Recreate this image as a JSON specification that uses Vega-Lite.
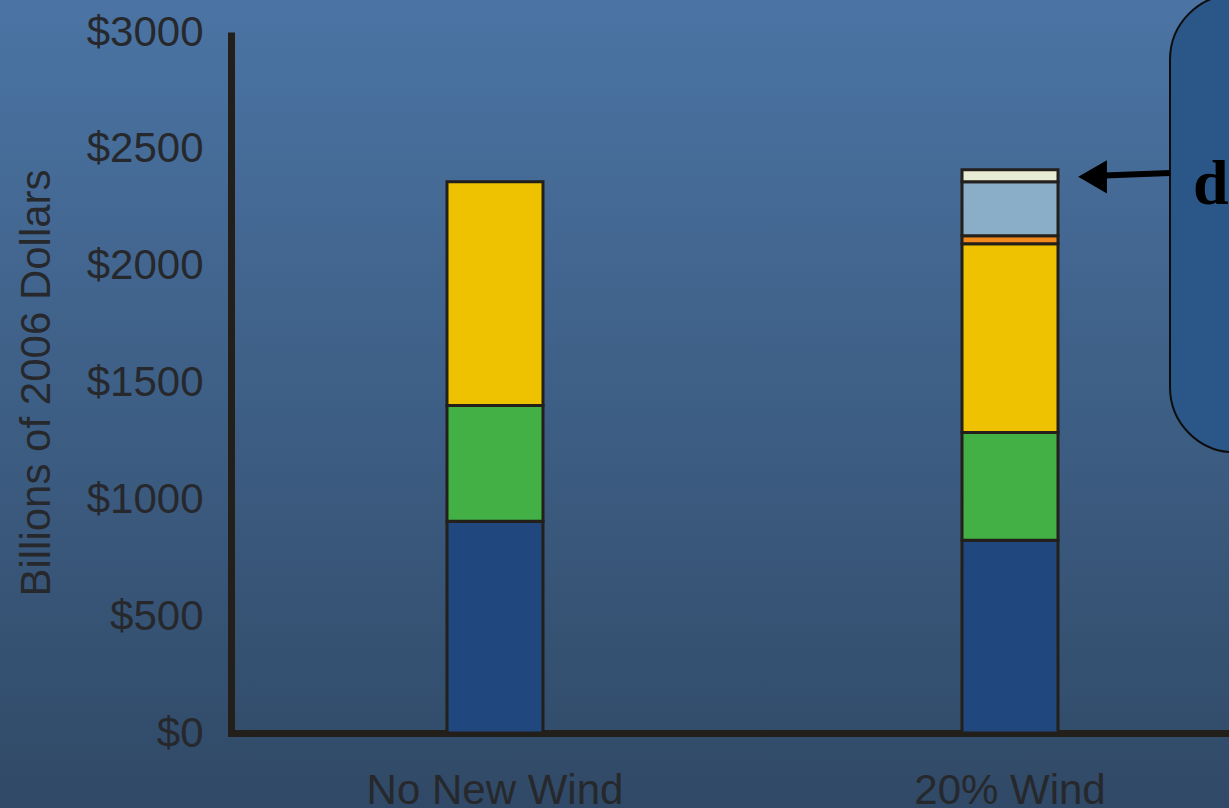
{
  "$schema": "https://vega.github.io/schema/vega-lite/v6.json",
  "width": 1229,
  "height": 808,
  "autosize": "none",
  "padding": 0,
  "background": "#3e5d85",
  "config": {
    "view": {
      "stroke": null,
      "fill": {
        "gradient": "linear",
        "x1": 0, "y1": 0, "x2": 0, "y2": 1,
        "stops": [
          {"offset": 0, "color": "#4b74a4"},
          {"offset": 1, "color": "#304966"}
        ]
      }
    },
    "axis": {
      "grid": false,
      "ticks": false,
      "tickSize": 0,
      "domainColor": "#231f1a",
      "domainWidth": 7,
      "labelFont": "Liberation Sans",
      "labelFontSize": 42,
      "labelColor": "#26282c",
      "labelLimit": 0,
      "titleFont": "Liberation Sans",
      "titleFontSize": 42,
      "titleFontWeight": "normal",
      "titleColor": "#26282c"
    }
  },
  "resolve": {"scale": {"x": "independent", "y": "independent"}},
  "layer": [
    {
      "data": {
        "values": [
          {"scenario": "No New Wind", "component": "Capital", "k": 1, "value": 906},
          {"scenario": "No New Wind", "component": "O&M", "k": 2, "value": 496},
          {"scenario": "No New Wind", "component": "Fuel", "k": 3, "value": 957},
          {"scenario": "20% Wind", "component": "Capital", "k": 1, "value": 825},
          {"scenario": "20% Wind", "component": "O&M", "k": 2, "value": 461},
          {"scenario": "20% Wind", "component": "Fuel", "k": 3, "value": 808},
          {"scenario": "20% Wind", "component": "Transmission", "k": 4, "value": 34},
          {"scenario": "20% Wind", "component": "Wind capital", "k": 5, "value": 231},
          {"scenario": "20% Wind", "component": "Wind O&M", "k": 6, "value": 51}
        ]
      },
      "mark": {"type": "bar", "width": 96, "stroke": "#231f1a", "strokeWidth": 3},
      "encoding": {
        "x": {
          "field": "scenario",
          "type": "nominal",
          "sort": ["No New Wind", "20% Wind"],
          "scale": {"range": [231, 1274], "paddingInner": 0, "paddingOuter": 0.0126},
          "axis": {
            "title": null,
            "labelAngle": 0,
            "labelPadding": 37,
            "labelBaseline": "top",
            "offset": -75,
            "domainCap": "square"
          }
        },
        "y": {
          "field": "value",
          "type": "quantitative",
          "stack": "zero",
          "scale": {"domain": [0, 3000], "range": [733, 32], "nice": false},
          "axis": {
            "title": "Billions of 2006 Dollars",
            "values": [0, 500, 1000, 1500, 2000, 2500, 3000],
            "labelExpr": "'$' + datum.value",
            "labelPadding": 28,
            "titlePadding": 28,
            "offset": -231,
            "domainCap": "butt"
          }
        },
        "color": {
          "field": "component",
          "type": "nominal",
          "scale": {
            "domain": ["Capital", "O&M", "Fuel", "Transmission", "Wind capital", "Wind O&M"],
            "range": ["#21477f", "#43b045", "#eec200", "#f08a1d", "#8aaec8", "#e8ecd5"]
          },
          "legend": null
        },
        "order": {"field": "k", "type": "quantitative"}
      }
    },
    {
      "data": {"values": [{"x1": 0.952, "x2": 1.08, "y1": 3160, "y2": 1201}]},
      "mark": {"type": "rect", "cornerRadius": 65, "fill": "#2a5788", "stroke": "#0d0d0d", "strokeWidth": 2},
      "encoding": {
        "x": {"field": "x1", "type": "quantitative", "scale": {"domain": [0, 1], "nice": false, "zero": false}, "axis": null},
        "x2": {"field": "x2"},
        "y": {"field": "y1", "type": "quantitative", "scale": {"domain": [0, 3000], "range": [733, 32], "nice": false}, "axis": null},
        "y2": {"field": "y2"}
      }
    },
    {
      "data": {"values": [{"xa": 0.952, "xb": 0.893, "ya": 2397, "yb": 2385}]},
      "mark": {"type": "rule", "stroke": "#000000", "strokeWidth": 6},
      "encoding": {
        "x": {"field": "xa", "type": "quantitative", "scale": {"domain": [0, 1], "nice": false, "zero": false}, "axis": null},
        "x2": {"field": "xb"},
        "y": {"field": "ya", "type": "quantitative", "scale": {"domain": [0, 3000], "range": [733, 32], "nice": false}, "axis": null},
        "y2": {"field": "yb"}
      }
    },
    {
      "data": {"values": [{"x": 0.889, "y": 2380}]},
      "mark": {"type": "point", "shape": "triangle-left", "filled": true, "size": 1100, "color": "#000000", "opacity": 1},
      "encoding": {
        "x": {"field": "x", "type": "quantitative", "scale": {"domain": [0, 1], "nice": false, "zero": false}, "axis": null},
        "y": {"field": "y", "type": "quantitative", "scale": {"domain": [0, 3000], "range": [733, 32], "nice": false}, "axis": null}
      }
    },
    {
      "data": {"values": [{"x": 0.9707, "y": 2266, "label": "difference"}]},
      "mark": {"type": "text", "align": "left", "baseline": "alphabetic", "font": "Liberation Serif", "fontWeight": "bold", "fontSize": 64, "color": "#000000"},
      "encoding": {
        "x": {"field": "x", "type": "quantitative", "scale": {"domain": [0, 1], "nice": false, "zero": false}, "axis": null},
        "y": {"field": "y", "type": "quantitative", "scale": {"domain": [0, 3000], "range": [733, 32], "nice": false}, "axis": null},
        "text": {"field": "label"}
      }
    }
  ]
}
